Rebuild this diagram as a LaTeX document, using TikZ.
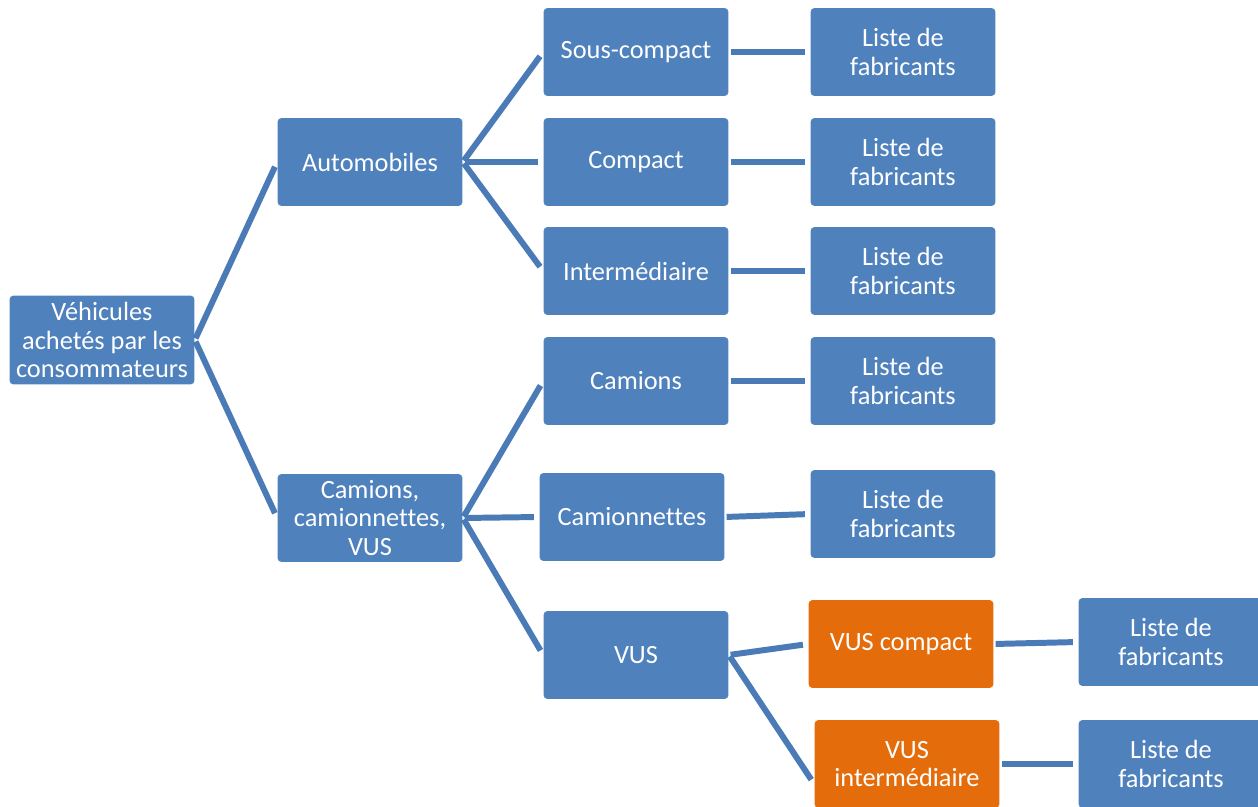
\documentclass[tikz,border=0pt]{standalone}
\usepackage{fontspec}
\setmainfont[Ligatures=NoCommon]{Carlito}
\usetikzlibrary{positioning}
\definecolor{boxblue}{HTML}{4F81BD}
\definecolor{boxorange}{HTML}{E46C0A}
\definecolor{linkblue}{HTML}{4A7BB7}

\begin{document}
\begin{tikzpicture}[x=0.02cm, y=-0.02cm,
		box/.style={fill=boxblue, rounded corners=2.3pt, minimum width=3.7cm, minimum height=1.76cm,
			align=center, text=white, inner sep=0pt,
			font=\fontsize{15}{16.2}\selectfont},
		orangebox/.style={box, fill=boxorange},
		link/.style={draw=linkblue, line width=3.4pt, shorten <=1pt, shorten >=3pt}]
			%%%%% START %%%%%
			
			\useasboundingbox (0, 0) rectangle (1258, 807);
			
			\node[box, minimum height=1.78cm] (root) at (102, 340) {Véhicules\\achetés par les\\consommateurs};
			
			\node[box] (autos) at (370, 162) {Automobiles};
			\node[box] (ctv) at (370, 518) {Camions,\\camionnettes,\\VUS};
			
			\node[box] (souscomp) at (636, 52) {Sous-compact};
			\node[box] (compact) at (636, 162) {Compact};
			\node[box] (interm) at (636, 271) {Intermédiaire};
			\node[box] (camions) at (636, 381) {Camions};
			\node[box] (camnet) at (632, 517) {Camionnettes};
			\node[box] (vus) at (636, 655) {VUS};
			
			\node[orangebox] (vuscomp) at (901, 644) {VUS compact};
			\node[orangebox] (vusint) at (907, 764) {VUS\\intermédiaire};
			
			\node[box] (liste1) at (903, 52) {Liste de\\fabricants};
			\node[box] (liste2) at (903, 162) {Liste de\\fabricants};
			\node[box] (liste3) at (903, 271) {Liste de\\fabricants};
			\node[box] (liste4) at (903, 381) {Liste de\\fabricants};
			\node[box] (liste5) at (903, 514) {Liste de\\fabricants};
			\node[box] (liste6) at (1171, 642) {Liste de\\fabricants};
			\node[box] (liste7) at (1171, 764) {Liste de\\fabricants};
			
			\draw[link] (root.east) -- (autos.west);
			\draw[link] (root.east) -- (ctv.west);
			
			\draw[link] (autos.east) -- (souscomp.west);
			\draw[link] (autos.east) -- (compact.west);
			\draw[link] (autos.east) -- (interm.west);
			
			\draw[link] (ctv.east) -- (camions.west);
			\draw[link] (ctv.east) -- (camnet.west);
			\draw[link] (ctv.east) -- (vus.west);
			
			\draw[link] (vus.east) -- (vuscomp.west);
			\draw[link] (vus.east) -- ([yshift=-0.4cm]vusint.west);
			
			\draw[link] (souscomp.east) -- (liste1.west);
			\draw[link] (compact.east) -- (liste2.west);
			\draw[link] (interm.east) -- (liste3.west);
			\draw[link] (camions.east) -- (liste4.west);
			\draw[link] (camnet.east) -- (liste5.west);
			\draw[link] (vuscomp.east) -- (liste6.west);
			\draw[link] (vusint.east) -- (liste7.west);
			
			%%%%% END %%%%%
		\end{tikzpicture}
\end{document}
